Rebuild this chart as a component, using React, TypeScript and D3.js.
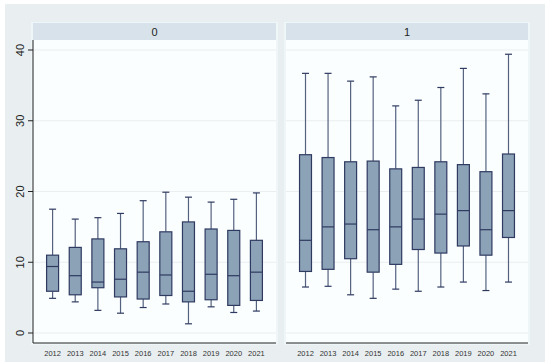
import React from 'react';
import * as d3 from 'd3';

const years = ['2012', '2013', '2014', '2015', '2016', '2017', '2018', '2019', '2020', '2021'];
const panels = ['0', '1'];
const yTicks = [0, 10, 20, 30, 40];

// [lower whisker, Q1, median, Q3, upper whisker] per year
const group0 = [
  [4.9, 5.9, 9.4, 11.0, 17.5],
  [4.4, 5.4, 8.1, 12.1, 16.1],
  [3.2, 6.4, 7.2, 13.3, 16.3],
  [2.8, 5.1, 7.6, 11.9, 16.9],
  [3.6, 4.8, 8.6, 12.9, 18.7],
  [4.1, 5.3, 8.2, 14.3, 19.9],
  [1.3, 4.4, 5.9, 15.7, 19.2],
  [3.7, 4.7, 8.3, 14.7, 18.5],
  [2.9, 3.9, 8.1, 14.5, 18.9],
  [3.1, 4.6, 8.6, 13.1, 19.8],
];
const group1 = [
  [6.5, 8.7, 13.1, 25.2, 36.7],
  [6.6, 9.0, 15.0, 24.8, 36.7],
  [5.4, 10.5, 15.4, 24.2, 35.6],
  [4.9, 8.6, 14.6, 24.3, 36.2],
  [6.2, 9.7, 15.0, 23.2, 32.1],
  [5.9, 11.8, 16.1, 23.4, 32.9],
  [6.5, 11.3, 16.8, 24.2, 34.7],
  [7.2, 12.3, 17.3, 23.8, 37.4],
  [6.0, 11.0, 14.6, 22.8, 33.8],
  [7.2, 13.5, 17.3, 25.3, 39.4],
];
const groups = [group0, group1];

const W = 550;
const H = 364;
const top = 40;
const bottom = 343;
const panelX = [[33, 276], [286, 528]];
const font = 'Liberation Sans, Arial, sans-serif';

export default function App() {
  const y = d3.scaleLinear().domain([0, 40]).range([333, 50]);

  return (
    <svg width={W} height={H} style={{ position: 'absolute', left: 0, top: 0, background: '#fff' }}>
      <rect x={5} y={4} width={540} height={358} fill="#e9eff1" />
      {panels.map((p, pi) => {
        const [x0, x1] = panelX[pi];
        const x = d3.scaleBand().domain(years).range([x0, x1]).paddingInner(0.47).paddingOuter(0.6);
        const bw = x.bandwidth();
        return (
          <g key={p}>
            <rect x={x0 - 2} y={top - 18} width={x1 - x0 + 4} height={bottom - top + 20} fill="#eef6f8" />
            <rect x={x0} y={top} width={x1 - x0} height={bottom - top} fill="#fbfeff" />
            <rect x={x0} y={top - 17} width={x1 - x0} height={17} fill="#d7e2ea" />
            <text x={(x0 + x1) / 2} y={top - 4.5} textAnchor="middle" fontSize={11} fontFamily={font} fill="#222">{p}</text>
            {yTicks.map(t => (
              <line key={t} x1={x0} x2={x1} y1={y(t)} y2={y(t)} stroke="#eaeef0" strokeWidth={1} />
            ))}
            {groups[pi].map((d, i) => {
              const cx = (x(years[i]) as number) + bw / 2;
              const [lo, q1, med, q3, hi] = d;
              return (
                <g key={i}>
                  <line x1={cx} x2={cx} y1={y(hi)} y2={y(q3)} stroke="#55627f" strokeWidth={1.2} />
                  <line x1={cx} x2={cx} y1={y(q1)} y2={y(lo)} stroke="#55627f" strokeWidth={1.2} />
                  <line x1={cx - 3.5} x2={cx + 3.5} y1={y(hi)} y2={y(hi)} stroke="#2e3a60" strokeWidth={1.2} />
                  <line x1={cx - 3.5} x2={cx + 3.5} y1={y(lo)} y2={y(lo)} stroke="#2e3a60" strokeWidth={1.2} />
                  <rect x={cx - bw / 2} y={y(q3)} width={bw} height={y(q1) - y(q3)} fill="#8ca2b7" stroke="#2e3a60" strokeWidth={1.2} />
                  <line x1={cx - bw / 2} x2={cx + bw / 2} y1={y(med)} y2={y(med)} stroke="#2e3a60" strokeWidth={1.2} />
                </g>
              );
            })}
            <line x1={x0} x2={x1} y1={bottom} y2={bottom} stroke="#222" strokeWidth={1} />
            {years.map(yr => (
              <text key={yr} x={(x(yr) as number) + bw / 2} y={bottom + 13} textAnchor="middle" fontSize={7.5} fontFamily={font} fill="#333">{yr}</text>
            ))}
            {pi === 0 && (
              <g>
                <line x1={x0} x2={x0} y1={top} y2={bottom} stroke="#222" strokeWidth={1} />
                {yTicks.map(t => (
                  <g key={t}>
                    <line x1={x0 - 5} x2={x0} y1={y(t)} y2={y(t)} stroke="#222" strokeWidth={1} />
                    <text transform={`translate(${x0 - 9},${y(t)}) rotate(-90)`} textAnchor="middle" fontSize={11} fontFamily={font} fill="#222">{t}</text>
                  </g>
                ))}
              </g>
            )}
          </g>
        );
      })}
    </svg>
  );
}
